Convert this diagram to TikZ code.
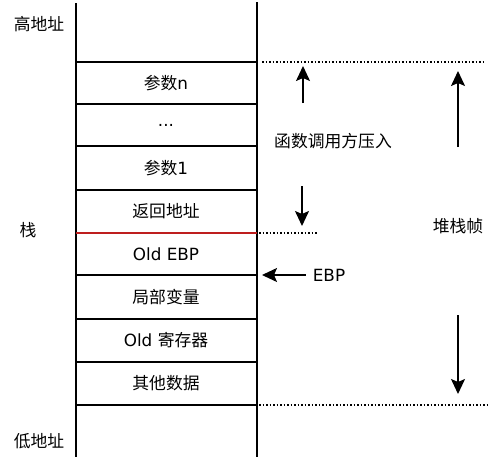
\documentclass[tikz,border=0pt]{standalone}
\usepackage{fontspec}
\setmainfont{DejaVu Sans}
\newfontfamily\cjk{Noto Sans CJK SC}
\usetikzlibrary{arrows.meta}
\definecolor{redline}{HTML}{BE1E1E}
\begin{document}
\begin{tikzpicture}[x=1pt,y=-1pt,
  every node/.style={font=\fontsize{16.8}{19}\selectfont, inner sep=0pt},
  wall/.style={line width=1.6pt, black},
  sep/.style={line width=1.4pt, black},
  guide/.style={dotted, line width=1.5pt},
  arr/.style={line width=1.6pt, -{Stealth[length=15pt,width=14pt,inset=3pt]}}]
\useasboundingbox (0,0) rectangle (494,463);
% walls
\coordinate (LT) at (76,3);
\coordinate (LB) at (76,457);
\coordinate (RT) at (257,2);
\coordinate (RB) at (257,457);
\draw[wall] (LT) -- (LB);
\draw[wall] (RT) -- (RB);
% separators
\foreach \y in {62,104,146,190,275,319,362,405}
  \draw[sep] (76,\y) -- (257,\y);
\draw[line width=1.6pt, redline] (76,233) -- (257,233);
% cells
\node (pn) at (166,83) {{\cjk 参数}n};
\node (dots) at (166,125) {...};
\node (p1) at (166,168) {{\cjk 参数}1};
\node (ret) at (166,211) {\cjk 返回地址};
\node (oebp) at (166,254) {Old EBP};
\node (loc) at (166,297) {\cjk 局部变量};
\node (oreg) at (166,340) {Old {\cjk 寄存器}};
\node (oth) at (166,383) {\cjk 其他数据};
% side labels
\node (hi) at (39,24) {\cjk 高地址};
\node (stk) at (28,230) {\cjk 栈};
\node (lo) at (39,441) {\cjk 低地址};
% dotted guides
\draw[guide] (262,62) -- (484,62);
\draw[guide] (259,233) -- (318,233);
\draw[guide] (259,405) -- (487,405);
% caller pushes
\node (call) at (333,141) {\cjk 函数调用方压入};
\coordinate (u1s) at (303,103);
\coordinate (u1e) at (303,66);
\coordinate (d1s) at (302,186);
\coordinate (d1e) at (302,226);
\draw[arr] (u1s) -- (u1e);
\draw[arr] (d1s) -- (d1e);
% stack frame
\node (frame) at (458,226) {\cjk 堆栈帧};
\coordinate (u2s) at (458,147);
\coordinate (u2e) at (458,71);
\coordinate (d2s) at (458,315);
\coordinate (d2e) at (458,394);
\draw[arr] (u2s) -- (u2e);
\draw[arr] (d2s) -- (d2e);
% EBP pointer
\node (ebp) at (329,275) {EBP};
\coordinate (ebptip) at (262,275);
\draw[arr] ([xshift=-7pt]ebp.west) -- (ebptip);
\end{tikzpicture}
\end{document}
